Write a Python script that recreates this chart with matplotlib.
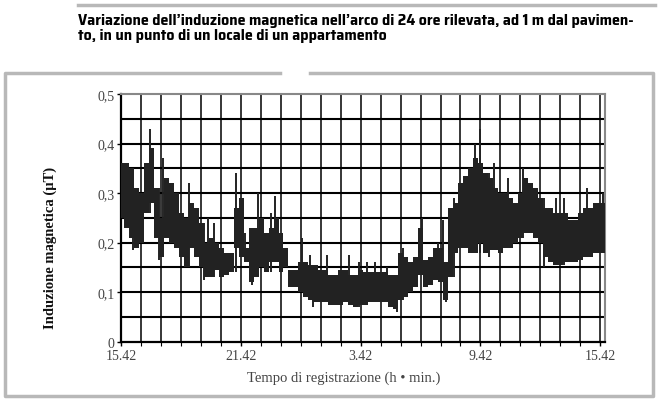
import numpy as np
import matplotlib.pyplot as plt
from matplotlib.lines import Line2D
from matplotlib import font_manager

# ore dall'inizio della registrazione (15.42), passo 0,25 h
ore = np.arange(0, 24.26, 0.25)
# inviluppo superiore / inferiore della traccia (µT)
b_max = [0.36, 0.36, 0.35, 0.31, 0.30, 0.36, 0.39, 0.31, 0.25, 0.33,
         0.32, 0.30, 0.26, 0.25, 0.28, 0.27, 0.24, 0.20, 0.21, 0.20,
         0.19, 0.18, 0.18, 0.27, 0.29, 0.19, 0.23, 0.23, 0.25, 0.22,
         0.23, 0.25, 0.22, 0.19, 0.145, 0.145, 0.16, 0.16, 0.155, 0.155,
         0.145, 0.145, 0.135, 0.135, 0.145, 0.145, 0.135, 0.135, 0.145, 0.14,
         0.14, 0.14, 0.14, 0.14, 0.135, 0.135, 0.18, 0.17, 0.16, 0.17,
         0.23, 0.165, 0.17, 0.19, 0.19, 0.16, 0.27, 0.28, 0.32, 0.335,
         0.35, 0.37, 0.36, 0.34, 0.33, 0.31, 0.30, 0.30, 0.29, 0.28,
         0.30, 0.33, 0.32, 0.31, 0.29, 0.27, 0.27, 0.26, 0.26, 0.26,
         0.245, 0.245, 0.26, 0.27, 0.27, 0.28, 0.28, 0.28]
b_min = [0.25, 0.23, 0.21, 0.19, 0.20, 0.26, 0.28, 0.21, 0.17, 0.21,
         0.20, 0.19, 0.17, 0.15, 0.19, 0.17, 0.15, 0.13, 0.13, 0.145,
         0.13, 0.135, 0.14, 0.19, 0.17, 0.16, 0.12, 0.13, 0.15, 0.14,
         0.16, 0.16, 0.14, 0.15, 0.11, 0.11, 0.10, 0.09, 0.085, 0.08,
         0.08, 0.08, 0.075, 0.075, 0.075, 0.08, 0.075, 0.07, 0.075, 0.075,
         0.08, 0.08, 0.08, 0.08, 0.07, 0.065, 0.085, 0.09, 0.10, 0.11,
         0.135, 0.11, 0.115, 0.125, 0.12, 0.085, 0.13, 0.18, 0.19, 0.19,
         0.18, 0.18, 0.20, 0.18, 0.185, 0.185, 0.18, 0.19, 0.19, 0.20,
         0.21, 0.22, 0.22, 0.21, 0.20, 0.17, 0.16, 0.155, 0.155, 0.16,
         0.16, 0.16, 0.165, 0.17, 0.17, 0.18, 0.18, 0.18]

# picchi isolati verso l'alto e verso il basso
picchi_t = [1.45, 2.1, 3.4, 4.35, 4.65, 5.75, 6.2, 6.85, 7.5, 7.7,
            9.05, 9.45, 10.3, 11.4, 11.9, 12.3, 12.7, 13.3, 14.1, 15.05,
            15.85, 16.1, 16.7, 17.75, 18.0, 18.7, 19.4, 20.15, 21.8, 22.2,
            23.35, 24.15]
picchi_v = [0.43, 0.37, 0.32, 0.25, 0.24, 0.34, 0.22, 0.30, 0.26, 0.295,
            0.21, 0.175, 0.175, 0.175, 0.16, 0.16, 0.16, 0.15, 0.19, 0.25,
            0.20, 0.245, 0.29, 0.40, 0.43, 0.36, 0.33, 0.35, 0.29, 0.29,
            0.31, 0.30]
minimi_t = [0.6, 1.9, 4.15, 6.55, 9.6, 13.8, 16.3, 18.45, 21.2]
minimi_v = [0.185, 0.165, 0.125, 0.115, 0.07, 0.06, 0.08, 0.17, 0.15]

etichette_x = ["15.42", "21.42", "3.42", "9.42", "15.42"]
etichette_y = ["0", "0,1", "0,2", "0,3", "0,4", "0,5"]

# font stretto e grassetto per il titolo, se disponibile (preferire SemiCondensed)
titolo_font = "Liberation Sans"
fonts = font_manager.fontManager.ttflist
bold = lambda f: f.weight in (600, 700, "bold", "semibold")
semi = [f for f in fonts if "SemiCondensed" in f.name and bold(f)]
cond = [f for f in fonts if ("Condensed" in f.name or "Narrow" in f.name) and bold(f)]
if semi:
    titolo_font = semi[0].name
elif cond:
    titolo_font = cond[0].name

fig = plt.figure(figsize=(6.63, 4.06), dpi=100)
ax = fig.add_axes([121.5 / 663, 63.3 / 406, 483.5 / 663, 247.7 / 406])

# griglia
for h in range(1, 25):
    ax.axvline(h, color="black", lw=1.1, zorder=1)
for v in np.arange(0.05, 0.5, 0.05):
    ax.axhline(v, color="black", lw=1.5, zorder=1)

traccia = "#222222"
ax.fill_between(ore, b_min, b_max, step="mid", color=traccia, lw=0, zorder=3)
idx_p = np.searchsorted(ore, picchi_t) - 1
ax.vlines(picchi_t, np.array(b_min)[idx_p], picchi_v, color=traccia, lw=1.4, zorder=3)
idx_m = np.searchsorted(ore, minimi_t) - 1
ax.vlines(minimi_t, minimi_v, np.array(b_max)[idx_m], color=traccia, lw=1.4, zorder=3)

ax.set_xlim(0, 24.25)
ax.set_ylim(0, 0.5)
ax.set_xticks([0, 6, 12, 18, 24])
ax.set_xticklabels(etichette_x)
ax.set_xticks(range(25), minor=True)
ax.set_yticks([0, 0.1, 0.2, 0.3, 0.4, 0.5])
ax.set_yticklabels(etichette_y)
ax.tick_params(axis="both", direction="out", length=3, width=1, color="black",
               labelsize=10, labelcolor="#444444", pad=2)
ax.tick_params(axis="x", which="minor", direction="out", length=3, width=0.8)
for lab in ax.get_xticklabels() + ax.get_yticklabels():
    lab.set_family("Liberation Serif")

for s in ["left", "bottom"]:
    ax.spines[s].set_linewidth(1.6)
for s in ["top", "right"]:
    ax.spines[s].set_color("#888888")
    ax.spines[s].set_linewidth(1.5)

fig.text(50 / 663, 1 - 248 / 406, "Induzione magnetica (μT)", rotation=90,
         ha="center", va="center", fontsize=10.5, family="Liberation Serif",
         weight="bold", color="#111111")
fig.text(344 / 663, 1 - 378 / 406, "Tempo di registrazione (h • min.)",
         ha="center", va="center", fontsize=10.5, family="Liberation Serif",
         color="#444444")

riga1 = "Variazione dell’induzione magnetica nell’arco di 24 ore rilevata, ad 1 m dal pavimen-"
riga2 = "to, in un punto di un locale di un appartamento"
t1 = fig.text(78 / 663, 1 - 25 / 406, riga1, ha="left", va="baseline", fontsize=10,
              family=[titolo_font, "DejaVu Sans"], weight="bold")
# adatta la dimensione perché la prima riga occupi ~570 px, senza superare 11,5 pt
r = fig.canvas.get_renderer()
dim = 10
for _ in range(4):
    w = t1.get_window_extent(r).width
    dim = min(dim * 570 / w, 11.5)
    t1.set_fontsize(dim)
fig.text(78 / 663, 1 - 40 / 406, riga2, ha="left", va="baseline", fontsize=dim,
         family=[titolo_font, "DejaVu Sans"], weight="bold")

# cornici grigie
grigio = "#b8b8b8"
fig.add_artist(Line2D([78 / 663, 655 / 663], [1 - 6 / 406, 1 - 6 / 406], color=grigio, lw=2.5))
fig.add_artist(Line2D([280 / 663, 5 / 663, 5 / 663, 653 / 663, 653 / 663, 310 / 663],
                      [1 - 74 / 406, 1 - 74 / 406, 1 - 397 / 406, 1 - 397 / 406,
                       1 - 74 / 406, 1 - 74 / 406], color=grigio, lw=2.5))

fig.savefig("out.png", dpi=100)
